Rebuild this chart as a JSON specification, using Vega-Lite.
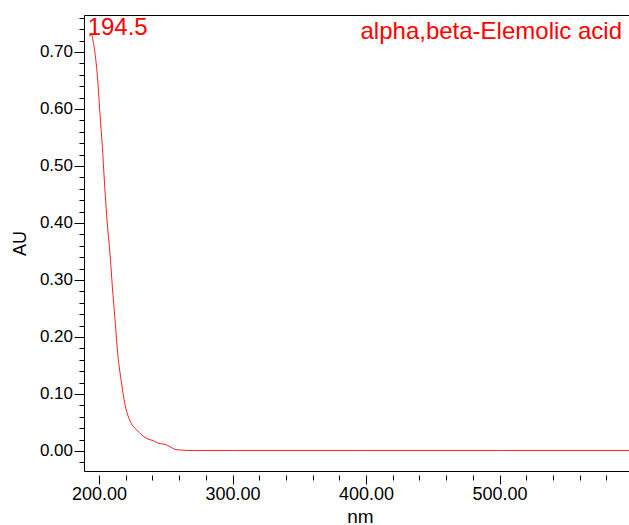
{
  "$schema": "https://vega.github.io/schema/vega-lite/v6.json",
  "autosize": "none",
  "width": 546,
  "height": 456,
  "padding": {"left": 84, "top": 15, "right": 0, "bottom": 54},
  "background": "white",
  "title": {
    "text": "alpha,beta-Elemolic acid",
    "anchor": "end",
    "frame": "group",
    "orient": "top",
    "baseline": "alphabetic",
    "offset": -24,
    "dx": -8,
    "dy": 33,
    "font": "Liberation Sans",
    "fontSize": 24,
    "fontWeight": "normal",
    "color": "#ff0000"
  },
  "datasets": {
    "spectrum": [
      {"nm": 192.5, "au": 0.727},
      {"nm": 194.5, "au": 0.730},
      {"nm": 195.5, "au": 0.720},
      {"nm": 197.0, "au": 0.698},
      {"nm": 199.0, "au": 0.651},
      {"nm": 200.7, "au": 0.592},
      {"nm": 202.5, "au": 0.534},
      {"nm": 204.0, "au": 0.475},
      {"nm": 206.0, "au": 0.405},
      {"nm": 208.2, "au": 0.347},
      {"nm": 210.0, "au": 0.288},
      {"nm": 212.0, "au": 0.230},
      {"nm": 214.0, "au": 0.171},
      {"nm": 216.5, "au": 0.125},
      {"nm": 219.5, "au": 0.081},
      {"nm": 222.5, "au": 0.057},
      {"nm": 225.7, "au": 0.043},
      {"nm": 228.2, "au": 0.037},
      {"nm": 231.5, "au": 0.029},
      {"nm": 235.7, "au": 0.022},
      {"nm": 240.7, "au": 0.018},
      {"nm": 244.4, "au": 0.0135},
      {"nm": 249.4, "au": 0.0117},
      {"nm": 253.2, "au": 0.0075},
      {"nm": 256.9, "au": 0.0030},
      {"nm": 260.7, "au": 0.0018},
      {"nm": 270.6, "au": 0.0008},
      {"nm": 300.0, "au": 0.0008},
      {"nm": 400.0, "au": 0.0008},
      {"nm": 500.0, "au": 0.0008},
      {"nm": 597.7, "au": 0.0008}
    ],
    "peak": [
      {"nm": 194.5, "au": 0.730}
    ]
  },
  "encoding": {
    "x": {
      "field": "nm",
      "type": "quantitative",
      "scale": {"domain": [188.76, 597.7], "nice": false, "zero": false},
      "axis": {
        "orient": "bottom",
        "values": [200, 220, 240, 260, 280, 300, 320, 340, 360, 380, 400, 420, 440, 460, 480, 500, 520, 540, 560, 580],
        "labelExpr": "datum.value % 100 === 0 ? format(datum.value, '.2f') : ''",
        "labelOverlap": false,
        "labelFlush": false,
        "labelPadding": 1,
        "labelFont": "Liberation Sans",
        "labelFontSize": 18,
        "labelColor": "#000000",
        "tickSize": {"condition": {"test": "datum.value % 100 === 0", "value": 13}, "value": 9},
        "tickDash": [0, 4, 30],
        "tickColor": "#000000",
        "domainColor": "#000000",
        "grid": false,
        "title": "nm",
        "titleFont": "Liberation Sans",
        "titleFontSize": 19,
        "titleFontWeight": "normal",
        "titleColor": "#000000",
        "titleX": 276,
        "titleY": 51,
        "titleAlign": "center",
        "titleBaseline": "alphabetic"
      }
    },
    "y": {
      "field": "au",
      "type": "quantitative",
      "scale": {"domain": [-0.0351, 0.7649], "nice": false, "zero": false},
      "axis": {
        "orient": "left",
        "values": [-0.02, 0, 0.02, 0.04, 0.06, 0.08, 0.1, 0.12, 0.14, 0.16, 0.18, 0.2, 0.22, 0.24, 0.26, 0.28, 0.3, 0.32, 0.34, 0.36, 0.38, 0.4, 0.42, 0.44, 0.46, 0.48, 0.5, 0.52, 0.54, 0.56, 0.58, 0.6, 0.62, 0.64, 0.66, 0.68, 0.7, 0.72, 0.74, 0.76, 0.7649],
        "labelExpr": "datum.value >= 0 && abs(datum.value * 10 - round(datum.value * 10)) < 0.000001 ? format(datum.value, '.2f') : ''",
        "labelOverlap": false,
        "labelFlush": false,
        "labelPadding": 1.5,
        "labelFont": "Liberation Sans",
        "labelFontSize": 17,
        "labelColor": "#000000",
        "tickSize": {"condition": {"test": "abs(datum.value * 10 - round(datum.value * 10)) < 0.000001", "value": 10}, "value": 5},
        "tickOpacity": {"condition": {"test": "datum.value > 0.764", "value": 0}, "value": 1},
        "tickColor": "#000000",
        "domainColor": "#000000",
        "grid": true,
        "gridColor": "#000000",
        "gridOpacity": {"condition": {"test": "datum.value > 0.764", "value": 1}, "value": 0},
        "title": "AU",
        "titleFont": "Liberation Sans",
        "titleFontSize": 18,
        "titleFontWeight": "normal",
        "titleColor": "#000000",
        "titleAngle": -90,
        "titleX": -59,
        "titleY": 228,
        "titleAlign": "center",
        "titleBaseline": "alphabetic"
      }
    }
  },
  "layer": [
    {
      "data": {"name": "spectrum"},
      "mark": {"type": "line", "color": "#ff2020", "strokeWidth": 1, "interpolate": "monotone"}
    },
    {
      "data": {"name": "peak"},
      "mark": {"type": "text", "align": "left", "baseline": "alphabetic", "dx": -4, "font": "Liberation Sans", "fontSize": 24, "color": "#ff0000"},
      "encoding": {
        "text": {"field": "nm", "type": "quantitative", "format": ".1f"}
      }
    }
  ],
  "config": {"view": {"stroke": null}}
}
